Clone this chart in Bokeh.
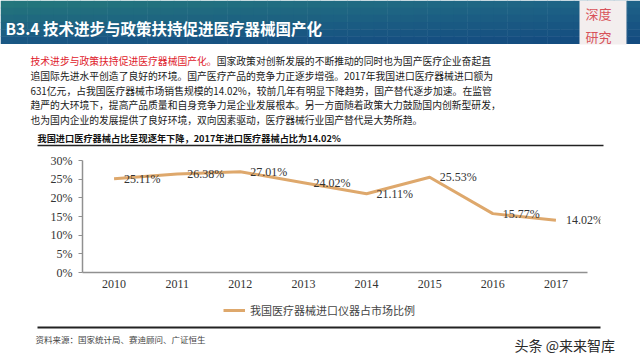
import numpy as np
from bokeh.plotting import figure
from bokeh.models import (Range1d, FixedTicker, PrintfTickFormatter,
                          LabelSet, ColumnDataSource, Legend, LegendItem)
from bokeh.layouts import column
from bokeh.embed import file_html
from bokeh.resources import INLINE
from bokeh.core.properties import value

# ---------------- data ----------------
years = ["2010", "2011", "2012", "2013", "2014", "2015", "2016", "2017"]
share = [25.11, 26.38, 27.01, 24.02, 21.11, 25.53, 15.77, 14.02]
y_ticks = [0, 5, 10, 15, 20, 25, 30]
series_name = "我国医疗器械进口仪器占市场比例"

title_text = "B3.4  技术进步与政策扶持促进医疗器械国产化"
stamp_lines = ["深度", "研究"]
para_red = "技术进步与政策扶持促进医疗器械国产化。"
para_lines = [
    "国家政策对创新发展的不断推动的同时也为国产医疗企业奋起直",
    "追国际先进水平创造了良好的环境。国产医疗产品的竞争力正逐步增强。2017年我国进口医疗器械进口额为",
    "631亿元，占我国医疗器械市场销售规模的14.02%，较前几年有明显下降趋势，国产替代逐步加速。在监管",
    "趋严的大环境下，提高产品质量和自身竞争力是企业发展根本。另一方面随着政策大力鼓励国内创新型研发，",
    "也为国内企业的发展提供了良好环境，双向因素驱动，医疗器械行业国产替代是大势所趋。",
]
subtitle_text = "我国进口医疗器械占比呈现逐年下降，2017年进口医疗器械占比为14.02%"
source_text = "资料来源：国家统计局、赛迪顾问、广证恒生"
watermark_text = "头条 @来来智库"

W = 640
CJK = value("Noto Sans CJK SC")
SERIF = "Liberation Serif"
LINE_COLOR = "#DEA86C"


def no_align(f):
    try:
        f.frame_align = False
    except Exception:
        pass


def deco_fig(y0, y1):
    f = figure(width=W, height=y1 - y0, x_range=Range1d(0, W), y_range=Range1d(y1, y0),
               output_backend="svg", toolbar_location=None, min_border=0,
               x_axis_type=None, y_axis_type=None)
    f.outline_line_color = None
    f.background_fill_color = "white"
    f.border_fill_color = "white"
    no_align(f)
    return f


# ---------------- top block: header + paragraph + subtitle ----------------
A = deco_fig(0, 148)

ncol, nrow = 48, 6
xs = np.linspace(0, W, ncol + 1)
ys = np.linspace(0, 43, nrow + 1)
tl, bl = np.array([36, 118, 124]), np.array([26, 88, 132])
tr, br = np.array([30, 98, 136]), np.array([20, 76, 128])
L, R, T, B, C = [], [], [], [], []
for i in range(ncol):
    u = i / (ncol - 1)
    for j in range(nrow):
        v = j / (nrow - 1)
        top = tl * (1 - u) + tr * u
        bot = bl * (1 - u) + br * u
        c = top * (1 - v) + bot * v
        L.append(xs[i]); R.append(xs[i + 1] + 0.5)
        T.append(ys[j]); B.append(ys[j + 1] + 0.5)
        C.append("#%02x%02x%02x" % tuple(int(k) for k in c))
A.quad(left=L, right=R, top=T, bottom=B, fill_color=C, line_color=None)

A.text(x=[5], y=[27], text=[title_text], text_font=CJK, text_font_size="15.5px",
       text_font_style="bold", text_color="white", text_baseline="middle")

# stamp
A.quad(left=[579], right=[626], top=[0], bottom=[44], fill_color="#f3eeee", line_color=None)
A.text(x=[598, 598], y=[13, 36], text=stamp_lines, text_font=CJK, text_font_size="13px",
       text_color="#d8525a", text_align="center", text_baseline="middle")

# paragraph
line_y = [60.5, 75.5, 90, 104.5, 119]
fs = "9.8px"
A.text(x=[30], y=[line_y[0]], text=[para_red], text_font=CJK, text_font_size=fs,
       text_color="#e0222c", text_baseline="middle")
A.text(x=[30 + 19 * 9.8], y=[line_y[0]], text=[para_lines[0]], text_font=CJK,
       text_font_size=fs, text_color="#1a1a1a", text_baseline="middle")
A.text(x=[30] * 4, y=line_y[1:], text=para_lines[1:], text_font=CJK,
       text_font_size=fs, text_color="#1a1a1a", text_baseline="middle")

# subtitle + rule
A.text(x=[37], y=[137], text=[subtitle_text], text_font=CJK, text_font_size="9.2px",
       text_font_style="bold", text_color="#111111", text_baseline="middle")
A.segment(x0=[37], x1=[603], y0=[145], y1=[145], line_color="#222222", line_width=1.5)

# ---------------- chart ----------------
xpos = list(range(len(years)))
p = figure(width=W, height=148, x_range=Range1d(-0.5, 7.706), y_range=Range1d(0, 30),
           output_backend="svg", toolbar_location=None,
           min_border_left=82, min_border_right=40, min_border_top=12, min_border_bottom=24)
no_align(p)
p.outline_line_color = None
p.xgrid.visible = False
p.ygrid.visible = False
p.background_fill_color = "white"
p.border_fill_color = "white"

axis_col = "#909090"
p.yaxis.ticker = FixedTicker(ticks=y_ticks)
p.yaxis.formatter = PrintfTickFormatter(format="%d%%")
p.yaxis.major_tick_out = 4
p.yaxis.major_tick_in = 0
p.yaxis.major_label_standoff = 6
p.xaxis.ticker = FixedTicker(ticks=xpos)
p.xaxis.major_label_overrides = {i: y for i, y in zip(xpos, years)}
p.xaxis.bounds = (-0.5, len(years) - 0.5)
for ax in (p.xaxis, p.yaxis):
    ax.axis_line_color = axis_col
    ax.axis_line_width = 1.5
    ax.major_tick_line_color = axis_col
    ax.minor_tick_line_color = None
    ax.major_label_text_font = SERIF
    ax.major_label_text_font_size = "12px"
    ax.major_label_text_color = "#333333"
p.xaxis.major_tick_out = 0
p.xaxis.major_tick_in = 0
p.xaxis.major_label_standoff = 7

src = ColumnDataSource(dict(x=xpos, share=share, lab=["%.2f%%" % v for v in share]))
r = p.line(x="x", y="share", source=src, line_color=LINE_COLOR, line_width=3,
           line_join="round")
p.add_layout(LabelSet(x="x", y="share", text="lab", source=src, x_offset=10,
                      text_baseline="middle", text_font=SERIF, text_font_size="12px",
                      text_color="#333333"))

# ---------------- bottom block: legend, source, watermark ----------------
Cfig = deco_fig(296, 360)
# same series renderer in this panel (its values fall outside this panel's ranges,
# so only its legend swatch shows)
leg_r = Cfig.line(x="x", y="share", source=src, line_color=LINE_COLOR, line_width=3)
legend = Legend(items=[LegendItem(label=series_name, renderers=[leg_r])], location=(223, 40),
                orientation="horizontal", border_line_color=None, background_fill_alpha=0,
                padding=0, margin=0, glyph_width=22, glyph_height=12, label_standoff=5,
                label_height=20, label_text_font="Noto Sans CJK SC", label_text_font_size="11px",
                label_text_color="#444444")
Cfig.add_layout(legend, "center")
Cfig.segment(x0=[37], x1=[600], y0=[327], y1=[327], line_color="#222222", line_width=1.8)
Cfig.text(x=[35], y=[338], text=[source_text], text_font=CJK, text_font_size="8.5px",
          text_color="#444444", text_baseline="middle")
Cfig.text(x=[514], y=[344], text=[watermark_text], text_font=CJK, text_font_size="14px",
          text_color="#2a2a2a", text_baseline="middle")

layout = column(A, p, Cfig, spacing=0)
open("out.html", "w").write(file_html(layout, INLINE))
